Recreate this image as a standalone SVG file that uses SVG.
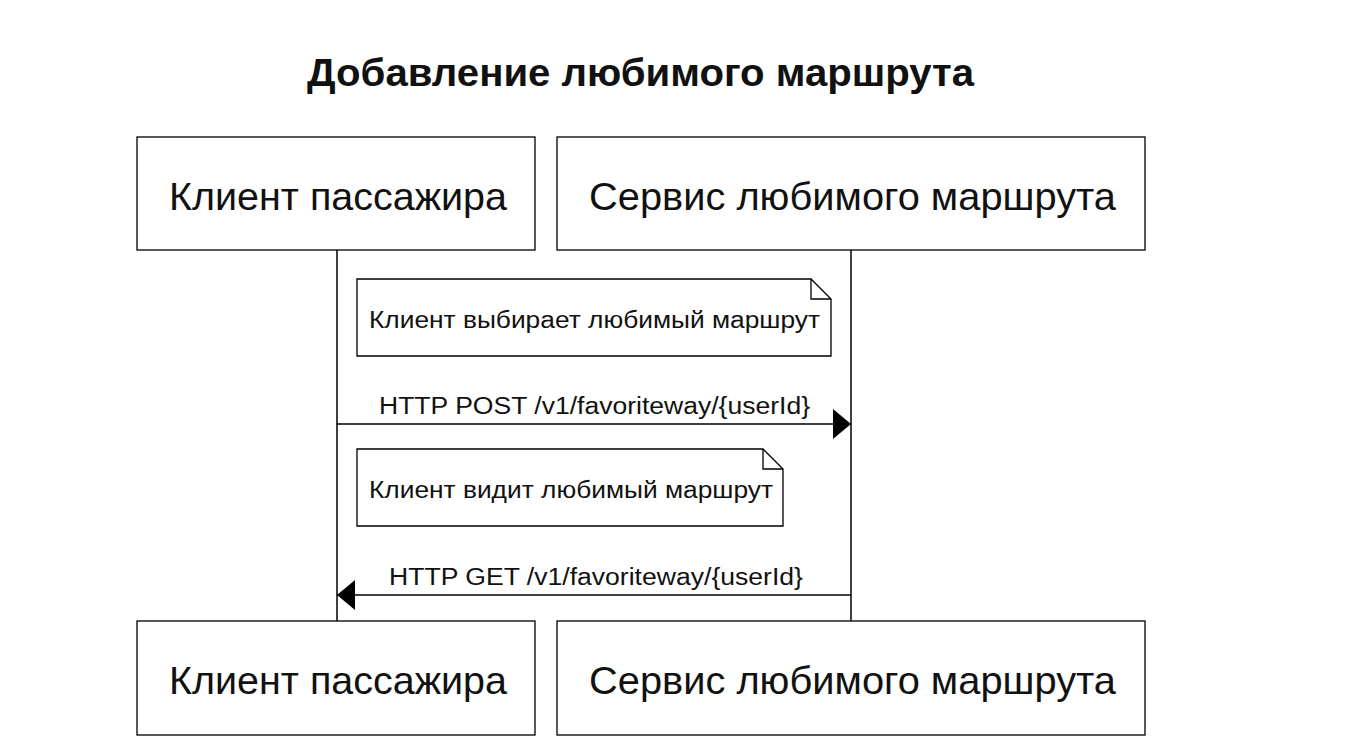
<svg xmlns="http://www.w3.org/2000/svg" width="1354" height="756" viewBox="0 0 1354 756">
<defs>
<style>
.box{fill:#fff;stroke:#000;stroke-width:1.3}
.big{font-family:"Liberation Sans",Arial,Helvetica,sans-serif;font-size:39px;fill:#111;text-anchor:middle}
.note{fill:#fff;stroke:#000;stroke-width:1.3}
.fold{fill:none;stroke:#000;stroke-width:1.3}
.sm{font-family:"Liberation Sans",Arial,Helvetica,sans-serif;font-size:23px;fill:#111;text-anchor:middle}
.line{stroke:#000;stroke-width:1.5;fill:none}
.title{font-family:"Liberation Sans",Arial,Helvetica,sans-serif;font-size:38px;font-weight:bold;fill:#111;text-anchor:middle}
</style>
<marker id="ah" viewBox="0 0 10 10" refX="10" refY="5" markerWidth="18" markerHeight="30" markerUnits="userSpaceOnUse" orient="auto" preserveAspectRatio="none">
<path d="M0,0 L10,5 L0,10 Z" fill="#000"/>
</marker>
</defs>
<rect width="1354" height="756" fill="#fff"/>
<text class="title" x="640.5" y="86" textLength="667" lengthAdjust="spacingAndGlyphs">Добавление любимого маршрута</text>
<g id="lifelines">
<line class="line" x1="337" y1="250" x2="337" y2="621"/>
<line class="line" x1="851" y1="250" x2="851" y2="621"/>
</g>
<g id="client-top"><rect class="box" x="137" y="137" width="398" height="113"/><text class="big" x="338" y="210" textLength="338" lengthAdjust="spacingAndGlyphs">Клиент пассажира</text></g>
<g id="service-top"><rect class="box" x="557" y="137" width="588" height="113"/><text class="big" x="852.5" y="210" textLength="527" lengthAdjust="spacingAndGlyphs">Сервис любимого маршрута</text></g>
<g id="client-bottom"><rect class="box" x="137" y="621" width="398" height="114"/><text class="big" x="338" y="694" textLength="338" lengthAdjust="spacingAndGlyphs">Клиент пассажира</text></g>
<g id="service-bottom"><rect class="box" x="557" y="621" width="588" height="114"/><text class="big" x="852.5" y="694" textLength="527" lengthAdjust="spacingAndGlyphs">Сервис любимого маршрута</text></g>
<g id="note1"><path class="note" d="M357,279 H811 L831,299 V356 H357 Z"/><path class="fold" d="M811,279 V299 H831"/><text class="sm" x="594.5" y="328" textLength="451" lengthAdjust="spacingAndGlyphs">Клиент выбирает любимый маршрут</text></g>
<g id="note2"><path class="note" d="M357,449 H763 L783,469 V526 H357 Z"/><path class="fold" d="M763,449 V469 H783"/><text class="sm" x="571" y="498" textLength="404" lengthAdjust="spacingAndGlyphs">Клиент видит любимый маршрут</text></g>
<g id="connectors">
<line class="line" x1="337" y1="424" x2="851" y2="424" marker-end="url(#ah)"/>
<text class="sm" x="594.5" y="414" textLength="431" lengthAdjust="spacingAndGlyphs">HTTP POST /v1/favoriteway/{userId}</text>
<line class="line" x1="851" y1="595" x2="337" y2="595" marker-end="url(#ah)"/>
<text class="sm" x="596" y="585" textLength="414" lengthAdjust="spacingAndGlyphs">HTTP GET /v1/favoriteway/{userId}</text>
</g>
</svg>
